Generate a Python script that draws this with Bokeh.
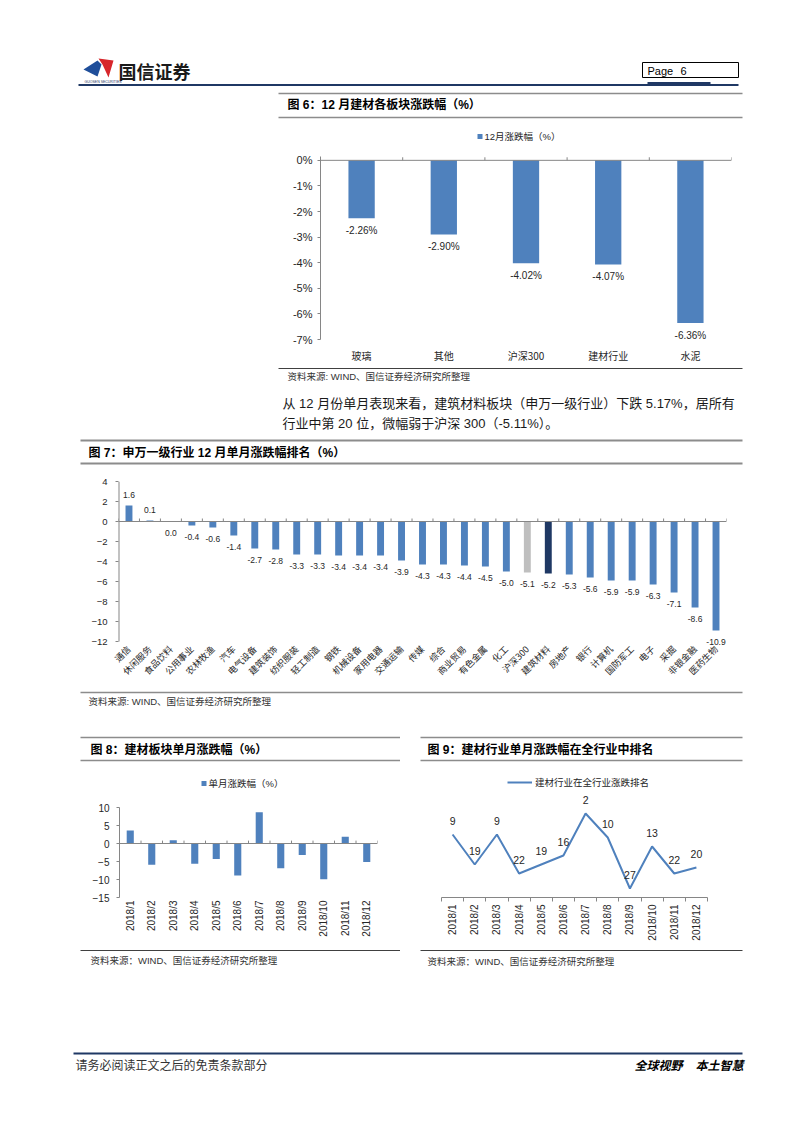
import math
from bokeh.plotting import figure
from bokeh.layouts import column, row
from bokeh.models import (Range1d, Spacer, FixedTicker, LinearAxis, Legend, LegendItem,
                          PrintfTickFormatter, Span, ColumnDataSource, LabelSet)
from bokeh.core.properties import value
from bokeh.embed import file_html
from bokeh.resources import INLINE

# ---------------- data ----------------
fig6_categories = ["玻璃", "其他", "沪深300", "建材行业", "水泥"]
fig6_values = [-2.26, -2.90, -4.02, -4.07, -6.36]
fig6_yticks = [0, -1, -2, -3, -4, -5, -6, -7]

fig7_categories = ["通信", "休闲服务", "食品饮料", "公用事业", "农林牧渔", "汽车", "电气设备",
                   "建筑装饰", "纺织服装", "轻工制造", "钢铁", "机械设备", "家用电器", "交通运输",
                   "传媒", "综合", "商业贸易", "有色金属", "化工", "沪深300", "建筑材料", "房地产",
                   "银行", "计算机", "国防军工", "电子", "采掘", "非银金融", "医药生物"]
fig7_values = [1.6, 0.1, 0.0, -0.4, -0.6, -1.4, -2.7, -2.8, -3.3, -3.3, -3.4, -3.4, -3.4, -3.9,
               -4.3, -4.3, -4.4, -4.5, -5.0, -5.1, -5.2, -5.3, -5.6, -5.9, -5.9, -6.3, -7.1, -8.6, -10.9]
fig7_yticks = [4, 2, 0, -2, -4, -6, -8, -10, -12]
fig7_benchmark = "沪深300"
fig7_focus = "建筑材料"

months = ["2018/1", "2018/2", "2018/3", "2018/4", "2018/5", "2018/6",
          "2018/7", "2018/8", "2018/9", "2018/10", "2018/11", "2018/12"]
fig8_values = [3.6, -5.9, 0.9, -5.6, -4.3, -8.9, 8.7, -6.9, -3.2, -9.9, 1.9, -5.17]
fig8_yticks = [10, 5, 0, -5, -10, -15]
fig9_ranks = [9, 19, 9, 22, 19, 16, 2, 10, 27, 13, 22, 20]

# ---------------- style ----------------
CJK = "Noto Sans CJK SC"
LAT = "Liberation Sans"
MIX = "Liberation Sans, Noto Sans CJK SC"
BLUE = "#4F81BD"
NAVY = "#1F3864"
LGRAY = "#BFBFBF"
AX = "#868686"
TXT = "#262626"
RULE = "#8C8C8C"
DARK = "#404040"


def strip(y_top, y_bot, x_left=0, x_right=786):
    p = figure(width=x_right - x_left, height=y_bot - y_top, x_range=Range1d(x_left, x_right),
               y_range=Range1d(y_bot, y_top), output_backend="svg",
               toolbar_location=None, min_border=0, x_axis_type=None,
               y_axis_type=None, outline_line_color=None, frame_align=False)
    p.grid.visible = False
    return p


def hline(p, x0, x1, y, color=RULE, width=1.5):
    p.segment(x0=[x0], y0=[y], x1=[x1], y1=[y], line_color=color, line_width=width)


def txt(p, x, y, s, size, font=MIX, color=TXT, style="normal", align="left"):
    p.text(x=[x], y=[y], text=[s], text_font=value(font), text_font_size=f"{size}px",
           text_color=color, text_font_style=style, text_align=align,
           text_baseline="middle")


def centers(cats):
    return [i + 0.5 for i in range(len(cats))]


def bounds(cats):
    return list(range(len(cats) + 1))


def chart(width, height, cats, y_range, left, right, top, bottom):
    p = figure(width=width, height=height, x_range=Range1d(0, len(cats)), y_range=y_range,
               output_backend="svg", toolbar_location=None,
               min_border_left=left, min_border_right=right,
               min_border_top=top, min_border_bottom=bottom,
               outline_line_color=None, x_axis_type=None, frame_align=False)
    p.grid.visible = False
    return p


def style_y(ax, ticks, size, standoff):
    ax.ticker = FixedTicker(ticks=ticks)
    ax.axis_line_color = AX
    ax.major_tick_line_color = AX
    ax.major_tick_in = 0
    ax.major_tick_out = 3
    ax.minor_tick_line_color = None
    ax.major_label_text_font = LAT
    ax.major_label_text_font_size = f"{size}px"
    ax.major_label_text_color = TXT
    ax.major_label_standoff = standoff


def cat_axis(cats, font, size, standoff, orientation="horizontal", line=False, ticks=False):
    return LinearAxis(
        ticker=FixedTicker(ticks=centers(cats), minor_ticks=bounds(cats)),
        major_label_overrides={c: s for c, s in zip(centers(cats), cats)},
        axis_line_color=AX if line else None,
        major_tick_line_color=None, major_tick_in=0, major_tick_out=0,
        minor_tick_line_color=AX if ticks else None,
        minor_tick_in=0, minor_tick_out=4 if ticks else 0,
        major_label_text_font=font, major_label_text_font_size=f"{size}px",
        major_label_text_color=TXT, major_label_standoff=standoff,
        major_label_orientation=orientation)


def zero_ticks(p, cats, h):
    b = bounds(cats)
    p.segment(x0=b, y0=[0] * len(b), x1=b, y1=[h] * len(b), line_color=AX, line_width=1)
    p.add_layout(Span(location=0, dimension="width", line_color=AX, line_width=1))


# ---------------- S1: header + fig 6 title ----------------
s1 = strip(0, 143)
s1.patch(x=[83, 97, 101, 97], y=[69, 60, 64, 76], fill_color="#1F4E9A", line_color=None)
s1.patch(x=[98, 113, 108, 102], y=[58, 60, 77, 64], fill_color="#D7262B", line_color=None)
txt(s1, 118, 70, "国信证券", 18, font=CJK, color="#1A1A1A", style="bold")
txt(s1, 84, 81, "GUOSEN SECURITIES", 3.5, font=LAT, color=NAVY)
s1.quad(left=[642], right=[738], top=[62], bottom=[77], fill_color=None,
        line_color="black", line_width=1)
txt(s1, 647, 70, "Page", 11, font=LAT, color="black")
txt(s1, 680, 70, "6", 11, font=LAT, color="black")
hline(s1, 78, 738, 84.5, color=NAVY, width=2)
hline(s1, 647, 710, 83, color=NAVY, width=3)
hline(s1, 278, 742, 93, color=RULE, width=1.5)
txt(s1, 287, 104.5, "图 6：12 月建材各板块涨跌幅（%）", 12, style="bold", color="black")
hline(s1, 278, 742, 117, color=RULE, width=1.5)
s1.rect(x=[479.5], y=[136], width=5, height=5, fill_color=BLUE, line_color=None)
txt(s1, 484, 136, "12月涨跌幅（%）", 9.5)

# ---------------- fig 6 chart ----------------
p6 = chart(472, 222, fig6_categories, Range1d(-7, 0.15), 50, 11, 13, 26)
zero_ticks(p6, fig6_categories, 0.12)
src6 = ColumnDataSource(dict(x=centers(fig6_categories), val=fig6_values,
                             lab=[f"{v:.2f}%" for v in fig6_values]))
p6.vbar(x="x", top=0, bottom="val", width=0.32, source=src6,
        fill_color=BLUE, line_color=None)
p6.add_layout(LabelSet(x="x", y="val", text="lab", source=src6, y_offset=-12,
                       text_align="center", text_baseline="middle",
                       text_font=value(LAT), text_font_size="10px", text_color=TXT))
style_y(p6.yaxis[0], fig6_yticks, 11, 5)
p6.yaxis[0].formatter = PrintfTickFormatter(format="%d%%")
p6.add_layout(cat_axis(fig6_categories, CJK, 10, 8), "below")
r1 = row(Spacer(width=270, height=222), p6)

# ---------------- S2: source + paragraph + fig 7 title ----------------
s2 = strip(365, 470)
hline(s2, 278, 742, 368, color=DARK, width=1)
txt(s2, 287, 375.5, "资料来源: WIND、国信证券经济研究所整理", 9.5, color="#333333")
txt(s2, 282, 403, "从 12 月份单月表现来看，建筑材料板块（申万一级行业）下跌 5.17%，居所有", 13, color="#1A1A1A")
txt(s2, 282, 423, "行业中第 20 位，微幅弱于沪深 300（-5.11%）。", 13, color="#1A1A1A")
hline(s2, 80, 742, 440, color=RULE, width=2)
txt(s2, 88, 452, "图 7：申万一级行业 12 月单月涨跌幅排名（%）", 12, style="bold", color="black")
hline(s2, 80, 742, 463, color=RULE, width=2)

# ---------------- fig 7 chart ----------------
p7 = chart(742, 220, fig7_categories, Range1d(-12.6, 4), 118, 16, 11, 43)
colors7 = [LGRAY if c == fig7_benchmark else NAVY if c == fig7_focus else BLUE
           for c in fig7_categories]
src7 = ColumnDataSource(dict(x=centers(fig7_categories), val=fig7_values, col=colors7,
                             lab=[f"{v:.1f}" for v in fig7_values],
                             off=[11 if v > 0 else -11 for v in fig7_values]))
zero_ticks(p7, fig7_categories, 0.3)
p7.segment(x0=[0], y0=[min(fig7_yticks)], x1=[0], y1=[max(fig7_yticks)],
           line_color=AX, line_width=2)
p7.vbar(x="x", top="val", bottom=0, width=0.33, source=src7,
        fill_color="col", line_color=None)
p7.add_layout(LabelSet(x="x", y="val", text="lab", source=src7, y_offset="off",
                       text_align="center", text_baseline="middle",
                       text_font=value(LAT), text_font_size="8.5px", text_color=TXT))
style_y(p7.yaxis[0], fig7_yticks, 9.5, 8)
p7.yaxis[0].axis_line_color = None
p7.add_layout(cat_axis(fig7_categories, CJK, 9, 0, math.pi / 4), "below")

# ---------------- S3: fig 7 source ----------------
s3 = strip(690, 730)
hline(s3, 80, 742, 692, color=RULE, width=1.5)
txt(s3, 88, 701, "资料来源: WIND、国信证券经济研究所整理", 9.5, color="#333333")

# ---------------- left column: fig 8 ----------------
s3l = strip(730, 797, 0, 400)
hline(s3l, 80, 400, 737, color=RULE, width=1.5)
txt(s3l, 90, 749, "图 8：建材板块单月涨跌幅（%）", 12, style="bold", color="black")
hline(s3l, 80, 400, 760, color=RULE, width=1.5)
s3l.rect(x=[203.5], y=[783], width=5, height=5, fill_color=BLUE, line_color=None)
txt(s3l, 208, 783, "单月涨跌幅（%）", 9.5)

p8 = chart(400, 148, months, Range1d(-15, 10), 119, 23, 10, 48)
zero_ticks(p8, months, 0.8)
p8.vbar(x=centers(months), top=fig8_values, bottom=0, width=0.33,
        fill_color=BLUE, line_color=None)
style_y(p8.yaxis[0], fig8_yticks, 10, 7)
p8.add_layout(cat_axis(months, LAT, 10, 3, math.pi / 2), "below")

s4l = strip(945, 975, 0, 400)
hline(s4l, 80, 400, 950, color=DARK, width=1)
txt(s4l, 90, 959.5, "资料来源：WIND、国信证券经济研究所整理", 9.5, color="#333333")

# ---------------- right column: fig 9 ----------------
s3r = strip(730, 772, 400, 786)
hline(s3r, 420, 742, 737, color=RULE, width=1.5)
txt(s3r, 427, 749, "图 9：建材行业单月涨跌幅在全行业中排名", 12, style="bold", color="black")
hline(s3r, 420, 742, 760, color=RULE, width=1.5)

p9 = chart(386, 173, months, Range1d(30, -11), 41, 79, 2, 48)
p9.yaxis.visible = False
p9.add_layout(cat_axis(months, LAT, 10, 3, math.pi / 2, line=True, ticks=True), "below")
src9 = ColumnDataSource(dict(x=centers(months), r=fig9_ranks,
                             lab=[str(v) for v in fig9_ranks]))
line9 = p9.line(x="x", y="r", source=src9, line_color=BLUE, line_width=2)
p9.add_layout(LabelSet(x="x", y="r", text="lab", source=src9, y_offset=14,
                       text_align="center", text_baseline="middle",
                       text_font=value(LAT), text_font_size="10.5px", text_color=TXT))
leg9 = Legend(items=[LegendItem(label=value("建材行业在全行业涨跌排名"), renderers=[line9])],
              location=(66, 108), orientation="horizontal", border_line_color=None,
              background_fill_alpha=0, padding=0, margin=0, spacing=0,
              glyph_width=25, glyph_height=12, label_height=12, label_standoff=3,
              label_text_font=CJK, label_text_font_size="9.5px", label_text_color=TXT)
p9.add_layout(leg9)

s4r = strip(945, 975, 400, 786)
hline(s4r, 420, 742, 950, color=DARK, width=1)
txt(s4r, 427, 960.5, "资料来源：WIND、国信证券经济研究所整理", 9.5, color="#333333")

r3 = row(column(s3l, p8, s4l), column(s3r, p9, s4r))

# ---------------- S5: footer ----------------
s5 = strip(975, 1117)
hline(s5, 73, 742, 1053, color=NAVY, width=2)
txt(s5, 75, 1064, "请务必阅读正文之后的免责条款部分", 12, font=CJK, color="#333333")
txt(s5, 634, 1064, "全球视野", 12, font=CJK, color="black", style="bold italic")
txt(s5, 695, 1064, "本土智慧", 12, font=CJK, color="black", style="bold italic")

layout = column(s1, r1, s2, p7, s3, r3, s5)

with open("out.html", "w") as f:
    f.write(file_html(layout, INLINE))
